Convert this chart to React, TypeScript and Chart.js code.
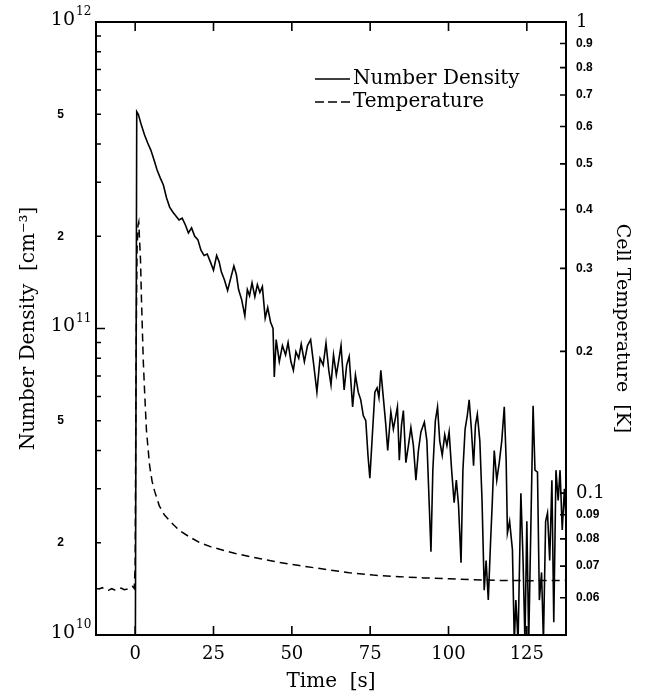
import React, { useEffect, useRef } from "react";
import { Chart, registerables } from "chart.js";
Chart.register(...registerables);

const SERIF = '"DejaVu Serif", serif';
const SANS = '"Liberation Sans", Arial, sans-serif';

// Number density [cm^-3] vs time [s]
const densTime = [
  -12.5, 0, 0.5, 1, 2, 3, 4, 5, 6, 7,
  8, 9, 10, 11, 12, 13, 14, 15, 16, 17,
  18, 19, 20, 21, 22, 23, 24, 25, 26, 26.8,
  27.5, 28.5, 29.5, 30.5, 31.5, 32.3, 33, 34, 35, 35.8,
  36.5, 37.3, 38.2, 39, 39.8, 40.6, 41.5, 42.3, 43.2, 44,
  44.4, 45, 46, 47, 48, 48.8, 49.7, 50.5, 51.3, 52.2,
  53, 54, 55, 56, 57, 58, 59, 60, 60.9, 61.8,
  62.5, 63.3, 64.2, 65, 65.7, 66.7, 67.5, 68.3, 69.4, 70.3,
  71.2, 72, 72.8, 73.6, 74.3, 74.9, 75.6, 76.5, 77.2, 77.8,
  78.4, 79.2, 80, 80.6, 81.6, 82.4, 83.2, 83.7, 84.3, 85,
  85.6, 86.4, 87.2, 88, 88.8, 89.6, 90.4, 91.2, 92.3, 93.1,
  93.8, 94.4, 95, 95.8, 96.5, 97.2, 98, 98.8, 99.5, 100.2,
  101, 101.8, 102.5, 103.2, 104, 104.6, 105.3, 106, 106.6, 107.3,
  108, 108.6, 109.2, 110, 110.7, 111.4, 112, 112.7, 113.4, 114,
  114.6, 115.4, 116.2, 117, 117.8, 118.4, 118.8, 119.5, 120.4, 121,
  121.5, 122.2, 123.1, 123.8, 124.4, 125, 125.6, 126.3, 127, 127.6,
  128.4, 129, 129.7, 130.3, 131, 131.6, 132.3, 133, 133.6, 134.3,
  135, 135.6, 136.3, 137, 137.5,
];
const densValue = [
  5e9, 5e9, 5.1e11, 5.0e11, 4.6e11, 4.28e11, 4.03e11, 3.82e11, 3.55e11, 3.29e11,
  3.1e11, 2.94e11, 2.67e11, 2.49e11, 2.4e11, 2.33e11, 2.26e11, 2.29e11, 2.18e11, 2.05e11,
  2.13e11, 2.0e11, 1.95e11, 1.8e11, 1.73e11, 1.75e11, 1.65e11, 1.55e11, 1.73e11, 1.65e11,
  1.53e11, 1.44e11, 1.33e11, 1.46e11, 1.6e11, 1.5e11, 1.34e11, 1.24e11, 1.1e11, 1.34e11,
  1.28e11, 1.41e11, 1.27e11, 1.39e11, 1.31e11, 1.37e11, 1.08e11, 1.17e11, 1.05e11, 1.0e11,
  6.95e10, 9.2e10, 7.8e10, 8.8e10, 8.2e10, 9.0e10, 7.8e10, 7.3e10, 8.4e10, 8.0e10,
  8.9e10, 7.8e10, 8.8e10, 9.2e10, 7.6e10, 6.2e10, 8.0e10, 7.6e10, 8.95e10, 7.3e10,
  6.55e10, 8.2e10, 7.05e10, 7.9e10, 8.8e10, 6.3e10, 7.6e10, 8.1e10, 5.55e10, 7.05e10,
  6.2e10, 5.85e10, 5.2e10, 5.0e10, 3.86e10, 3.25e10, 4.32e10, 6.2e10, 6.4e10, 5.95e10,
  7.3e10, 5.95e10, 4.84e10, 4.0e10, 5.35e10, 4.7e10, 5.2e10, 5.55e10, 3.72e10, 4.84e10,
  5.4e10, 3.65e10, 4.15e10, 4.75e10, 4.15e10, 3.2e10, 4.0e10, 4.6e10, 4.95e10, 4.3e10,
  2.75e10, 1.87e10, 3.45e10, 5.0e10, 5.55e10, 4.3e10, 3.86e10, 4.5e10, 4.15e10, 4.6e10,
  3.45e10, 2.7e10, 3.2e10, 2.65e10, 1.72e10, 3.45e10, 4.7e10, 5.2e10, 5.85e10, 4.7e10,
  3.57e10, 4.84e10, 5.25e10, 4.3e10, 2.75e10, 1.4e10, 1.75e10, 1.3e10, 1.98e10, 2.75e10,
  4.0e10, 3.2e10, 3.65e10, 4.3e10, 5.55e10, 3.72e10, 2.15e10, 2.35e10, 1.9e10, 9.5e9,
  1.3e10, 9.5e9, 2.9e10, 1.75e10, 9.5e9, 2.35e10, 9.5e9, 2.3e10, 5.6e10, 3.45e10,
  3.4e10, 1.3e10, 1.6e10, 9.5e9, 2.35e10, 2.5e10, 1.75e10, 3.2e10, 1.1e10, 3.45e10,
  2.75e10, 3.45e10, 2.2e10, 3.0e10, 2.35e10,
];

// Cell temperature [K] vs time [s]
const tempTime = [
  -12.5, -11.5, -10.5, -9.5, -8.5, -7.5, -6.5, -5.5, -4.5, -3.5,
  -2.5, -1.5, -0.8, -0.3, 0, 0.3, 0.6, 0.9, 1.15, 1.4,
  1.7, 2.0, 2.3, 2.6, 3.0, 3.6, 4.6, 5.4, 6.2, 7.7,
  9.3, 10.9, 14.1, 17, 20.5, 24, 28.5, 32, 36.4, 40,
  45, 52.4, 60, 68.3, 76, 84.3, 92, 100.2, 108, 116.2,
  125, 137.5,
];
const tempValue = [
  0.0628, 0.0626, 0.063, 0.0624, 0.0622, 0.0627, 0.0623, 0.0625, 0.0629, 0.0624,
  0.0626, 0.0631, 0.0634, 0.0628, 0.07, 0.2, 0.33, 0.37, 0.376, 0.345,
  0.313, 0.26, 0.222, 0.19, 0.165, 0.136, 0.1145, 0.106, 0.101, 0.094,
  0.09, 0.0875, 0.0833, 0.081, 0.0786, 0.077, 0.0755, 0.0745, 0.0734, 0.0726,
  0.0715, 0.0702, 0.069, 0.0678, 0.067, 0.0665, 0.0661, 0.0658, 0.0655, 0.0653,
  0.0652, 0.0653,
];

const xTicks = [0, 25, 50, 75, 100, 125];
const leftSmallValues = [2e10, 5e10, 2e11, 5e11];
const leftSmallTexts = ["2", "5", "2", "5"];
const leftDecadeValues = [1e10, 1e11, 1e12];
const leftDecadeBase = "10";
const leftDecadeExps = ["10", "11", "12"];
const leftTickMarks = [
  1e10, 2e10, 3e10, 4e10, 5e10, 6e10, 7e10, 8e10, 9e10,
  1e11, 2e11, 3e11, 4e11, 5e11, 6e11, 7e11, 8e11, 9e11, 1e12,
];
const rightLabelValues = [0.06, 0.07, 0.08, 0.09, 0.1, 0.2, 0.3, 0.4, 0.5, 0.6, 0.7, 0.8, 0.9, 1];
const rightLabelTexts = ["0.06", "0.07", "0.08", "0.09", "0.1", "0.2", "0.3", "0.4", "0.5", "0.6", "0.7", "0.8", "0.9", "1"];
const rightBigLabels = ["1", "0.1"];
const legendTexts = ["Number Density", "Temperature"];

const findLabel = (vals: number[], texts: string[], v: number) => {
  for (let i = 0; i < vals.length; i++) {
    if (Math.abs(vals[i] - v) / vals[i] < 1e-6) return texts[i];
  }
  return "";
};

const framePlugin = {
  id: "frameTicks",
  afterDatasetsDraw(chart: any) {
    const { ctx, chartArea: a, scales } = chart;
    ctx.save();
    ctx.strokeStyle = "#000";
    ctx.lineWidth = 1.6;
    ctx.beginPath();
    for (const v of xTicks) {
      const px = scales.x.getPixelForValue(v);
      ctx.moveTo(px, a.bottom);
      ctx.lineTo(px, a.bottom - 9);
      ctx.moveTo(px, a.top);
      ctx.lineTo(px, a.top + 9);
    }
    for (const v of leftTickMarks) {
      const py = scales.y.getPixelForValue(v);
      const major = Math.abs(Math.log10(v) - Math.round(Math.log10(v))) < 1e-9;
      ctx.moveTo(a.left, py);
      ctx.lineTo(a.left + (major ? 9 : 5), py);
    }
    for (const v of rightLabelValues) {
      const py = scales.y2.getPixelForValue(v);
      ctx.moveTo(a.right, py);
      ctx.lineTo(a.right - 6, py);
    }
    ctx.stroke();
    ctx.lineWidth = 2;
    ctx.strokeRect(a.left, a.top, a.right - a.left, a.bottom - a.top);

    // left axis labels
    ctx.fillStyle = "#000";
    ctx.textBaseline = "middle";
    leftSmallValues.forEach((v, i) => {
      const py = scales.y.getPixelForValue(v);
      ctx.font = `bold 12px ${SANS}`;
      ctx.textAlign = "right";
      ctx.fillText(leftSmallTexts[i], a.left - 32, py);
    });
    leftDecadeValues.forEach((v, i) => {
      const py = scales.y.getPixelForValue(v) - 2;
      ctx.font = `19px ${SERIF}`;
      ctx.textAlign = "right";
      ctx.fillText(leftDecadeBase, a.left - 21, py);
      ctx.font = `12px ${SERIF}`;
      ctx.textAlign = "left";
      ctx.fillText(leftDecadeExps[i], a.left - 20, py - 8);
    });

    // legend
    const lx0 = a.left + 219;
    const lx1 = a.left + 254;
    const ly0 = a.top + 57;
    const ly1 = a.top + 80;
    ctx.lineWidth = 1.5;
    ctx.setLineDash([]);
    ctx.beginPath();
    ctx.moveTo(lx0, ly0);
    ctx.lineTo(lx1, ly0);
    ctx.stroke();
    ctx.setLineDash([9, 4]);
    ctx.beginPath();
    ctx.moveTo(lx0, ly1);
    ctx.lineTo(lx1, ly1);
    ctx.stroke();
    ctx.setLineDash([]);
    ctx.font = `20px ${SERIF}`;
    ctx.textBaseline = "middle";
    ctx.textAlign = "left";
    ctx.fillText(legendTexts[0], lx1 + 3, ly0);
    ctx.fillText(legendTexts[1], lx1 + 3, ly1);
    ctx.restore();
  },
};

export default function App() {
  const ref = useRef<HTMLCanvasElement>(null);
  useEffect(() => {
    const chart = new Chart(ref.current as HTMLCanvasElement, {
      type: "line",
      data: {
        datasets: [
          {
            label: legendTexts[0],
            data: densTime.map((t, i) => ({ x: t, y: densValue[i] })),
            yAxisID: "y",
            borderColor: "#000",
            borderWidth: 1.6,
            pointRadius: 0,
            tension: 0,
          },
          {
            label: legendTexts[1],
            data: tempTime.map((t, i) => ({ x: t, y: tempValue[i] })),
            yAxisID: "y2",
            borderColor: "#000",
            borderWidth: 1.5,
            borderDash: [8, 5],
            pointRadius: 0,
            tension: 0,
          },
        ],
      },
      options: {
        responsive: false,
        animation: false,
        layout: { padding: { top: 22, left: 0, right: 0, bottom: 0 } },
        plugins: { legend: { display: false }, tooltip: { enabled: false } },
        scales: {
          x: {
            type: "linear",
            min: -12.5,
            max: 137.5,
            afterBuildTicks: (s: any) => {
              s.ticks = xTicks.map((v) => ({ value: v }));
            },
            afterFit: (s: any) => {
              s.height = 61;
            },
            grid: { display: false, drawTicks: false },
            border: { display: false },
            ticks: {
              color: "#000",
              font: { family: SERIF, size: 18 },
              padding: 9,
              maxRotation: 0,
              autoSkip: false,
            },
            title: {
              display: true,
              text: "Time  [s]",
              color: "#000",
              font: { family: SERIF, size: 20 },
              padding: { top: 0, bottom: 2 },
            },
          },
          y: {
            type: "logarithmic",
            position: "left",
            min: 1e10,
            max: 1e12,
            afterFit: (s: any) => {
              s.width = 96;
            },
            grid: { display: false, drawTicks: false },
            border: { display: false },
            ticks: { display: false },
            title: {
              display: true,
              text: "Number Density  [cm\u207B\u00B3]",
              color: "#000",
              font: { family: SERIF, size: 20 },
              padding: { top: 17, bottom: 0 },
            },
          },
          y2: {
            type: "logarithmic",
            position: "right",
            min: 0.05,
            max: 1,
            afterBuildTicks: (s: any) => {
              s.ticks = rightLabelValues.map((v) => ({ value: v }));
            },
            afterFit: (s: any) => {
              s.width = 86;
            },
            grid: { display: false, drawTicks: false },
            border: { display: false },
            ticks: {
              color: "#000",
              autoSkip: false,
              padding: 10,
              callback: (v: any) => findLabel(rightLabelValues, rightLabelTexts, Number(v)),
              font: (c: any) => {
                const txt = c.tick ? findLabel(rightLabelValues, rightLabelTexts, c.tick.value) : "";
                return rightBigLabels.includes(txt)
                  ? { family: SERIF, size: 18 }
                  : { family: SANS, size: 12, weight: "bold" };
              },
            },
            title: {
              display: true,
              text: "Cell Temperature  [K]",
              color: "#000",
              font: { family: SERIF, size: 19 },
              padding: { top: 19, bottom: 0 },
            },
          },
        },
      } as any,
      plugins: [framePlugin],
    });
    return () => chart.destroy();
  }, []);
  return (
    <div style={{ position: "absolute", left: 0, top: 0, width: 652, height: 696, background: "#fff" }}>
      <canvas ref={ref} width={652} height={696} style={{ display: "block" }} />
    </div>
  );
}
